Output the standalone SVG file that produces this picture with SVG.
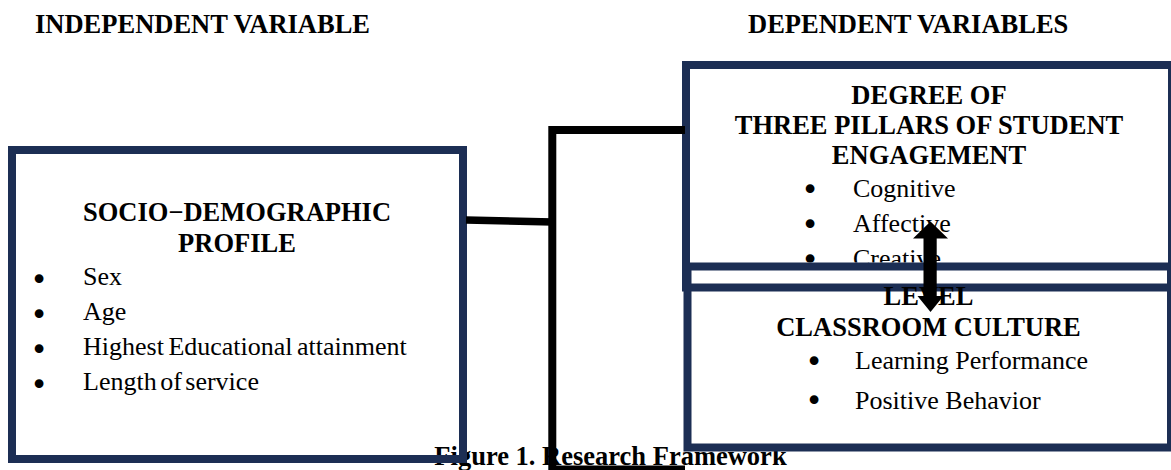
<svg xmlns="http://www.w3.org/2000/svg" width="1171" height="470" viewBox="0 0 1171 470">
<style>
.box{fill:none;stroke:#1c2e54;stroke-width:8}
.bt{font-family:"Liberation Serif","Times New Roman",serif;font-weight:bold;font-size:26.5px;fill:#000}
.it{font-family:"Liberation Serif","Times New Roman",serif;font-size:26px;fill:#000}
.bl{font-family:"DejaVu Sans",sans-serif;font-size:30px;fill:#000;text-anchor:middle}
.mid{text-anchor:middle}
.con{fill:none;stroke:#000;stroke-width:8;stroke-linejoin:miter}
</style>
<defs>
<clipPath id="topclip"><rect x="0" y="0" width="1171" height="262.5"/></clipPath>
</defs>
<rect x="0" y="0" width="1171" height="470" fill="#fff"/>
<g id="headers">
<text class="bt" x="35" y="33">INDEPENDENT VARIABLE</text>
<text class="bt" x="748" y="33">DEPENDENT VARIABLES</text>
</g>
<g id="caption">
<text class="bt mid" x="610.5" y="465">Figure 1. Research Framework</text>
</g>
<g id="node-socio">
<rect class="box" x="12" y="150" width="451" height="309" fill="#fff"/>
<text class="bt mid" x="237" y="221">SOCIO−DEMOGRAPHIC</text>
<text class="bt mid" x="237" y="252">PROFILE</text>
<text class="bl" x="39" y="289.5">•</text>
<text class="it" x="83" y="285">Sex</text>
<text class="bl" x="39" y="324.5">•</text>
<text class="it" x="83" y="320">Age</text>
<text class="bl" x="39" y="359.5">•</text>
<text class="it" x="83" y="355" word-spacing="-2">Highest Educational attainment</text>
<text class="bl" x="39" y="394.5">•</text>
<text class="it" x="83" y="390" word-spacing="-3">Length of service</text>
</g>
<g id="node-engagement">
<rect class="box" x="686" y="65" width="486" height="222.5"/>
<g clip-path="url(#topclip)">
<text class="bt mid" x="929" y="103.5">DEGREE OF</text>
<text class="bt mid" x="929" y="133.5">THREE PILLARS OF STUDENT</text>
<text class="bt mid" x="929" y="163.5">ENGAGEMENT</text>
<text class="bl" x="810" y="199.5">•</text>
<text class="it" x="853" y="197">Cognitive</text>
<text class="bl" x="810" y="234.5">•</text>
<text class="it" x="853" y="232">Affective</text>
<text class="bl" x="810" y="269.5">•</text>
<text class="it" x="853" y="267">Creative</text>
</g>
</g>
<g id="node-culture">
<rect class="box" x="687.5" y="266.5" width="483.5" height="181"/>
<text class="bt mid" x="928.5" y="304.5">LEVEL</text>
<text class="bt mid" x="928.5" y="336">CLASSROOM CULTURE</text>
<text class="bl" x="814" y="371.5">•</text>
<text class="it" x="855" y="368.5">Learning Performance</text>
<text class="bl" x="814" y="410.5">•</text>
<text class="it" x="855" y="408.5">Positive Behavior</text>
</g>
<g id="connectors">
<path class="con" d="M685,130 H552.3 V469.5 H685"/>
<line x1="466" y1="220" x2="553" y2="222" stroke="#000" stroke-width="7.5"/>
<path d="M930.5,221.5 L948,238.5 L936.7,238.5 L936.7,296 L943.5,296 L930.5,312 L917.5,296 L923.5,296 L923.5,238.5 L913,238.5 Z" fill="#000"/>
</g>
</svg>
